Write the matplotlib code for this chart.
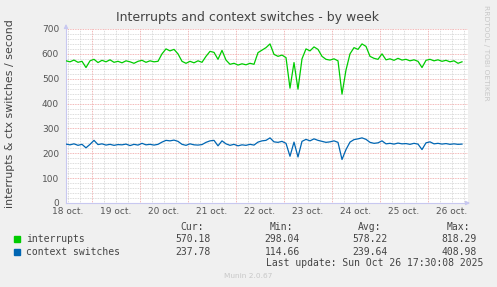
import numpy as np
import matplotlib
matplotlib.use("Agg")
import matplotlib.pyplot as plt
from matplotlib.patches import Rectangle

# hours since 18 oct 00:00, one sample every 2 hours
hours = np.arange(11, 211, 2)

interrupts = [
    572, 568, 575, 566, 570, 545, 572, 578, 565, 574,
    568, 576, 566, 570, 564, 572, 568, 562, 570, 574,
    566, 572, 568, 570, 600, 620, 612, 618, 600, 570,
    562, 570, 564, 572, 566, 590, 610, 606, 578, 614,
    575, 558, 562, 555, 560, 556, 562, 558, 605, 615,
    625, 640, 598, 590, 595, 585, 462, 565, 458, 580,
    620, 612, 628, 618, 590, 578, 575, 580, 572, 438,
    535, 600, 625, 618, 640, 630, 590, 582, 578, 600,
    576, 580, 574, 582, 575, 578, 572, 576, 570, 545,
    574, 578, 572, 576, 570, 574, 568, 572, 562, 568,
]

ctx_switches = [
    237, 234, 238, 232, 236, 222, 236, 252, 235, 238,
    233, 236, 232, 235, 234, 237, 231, 236, 233, 240,
    234, 236, 233, 236, 245, 252, 250, 253, 248, 236,
    232, 238, 234, 233, 235, 244, 250, 252, 230, 250,
    238, 232, 236, 230, 234, 232, 236, 233, 245, 250,
    252, 262, 246, 244, 248, 240, 188, 245, 185, 248,
    256, 250, 258, 252, 248, 244, 246, 250, 244, 175,
    215, 245, 255, 258, 262, 256, 244, 240, 242, 250,
    238, 240, 237, 241, 238, 239, 236, 240, 237, 215,
    242, 246, 238, 240, 237, 239, 236, 238, 236, 237,
]

day_labels = ["18 oct.", "19 oct.", "20 oct.", "21 oct.", "22 oct.",
              "23 oct.", "24 oct.", "25 oct.", "26 oct."]

series_names = ["interrupts", "context switches"]
series_colors = ["#00cc00", "#0066b3"]
cur_vals = ["570.18", "237.78"]
min_vals = ["298.04", "114.66"]
avg_vals = ["578.22", "239.64"]
max_vals = ["818.29", "408.98"]

W, H = 497, 287


def fx(px):
    return px / W


def fy(py):
    return 1 - py / H


fig = plt.figure(figsize=(W / 100, H / 100), dpi=100, facecolor="#f0f0f0")
ax = fig.add_axes([fx(66), fy(203), (468 - 66) / W, (203 - 29) / H])
ax.set_facecolor("white")
ax.set_xlim(11, 212)
ax.set_ylim(0, 700)

# grid, rrdtool style
for h in range(12, 212, 6):
    if h % 24:
        ax.axvline(h, color="#d0d0d0", lw=0.6, ls=(0, (1, 1)), zorder=1)
for v in range(20, 701, 20):
    if v % 100:
        ax.axhline(v, color="#d0d0d0", lw=0.6, ls=(0, (1, 1)), zorder=1)
for h in range(24, 212, 24):
    ax.axvline(h, color="#eea0a0", lw=0.6, ls=(0, (1, 1)), zorder=1)
for v in range(100, 701, 100):
    ax.axhline(v, color="#eea0a0", lw=0.6, ls=(0, (1, 1)), zorder=1)

ax.plot(hours, interrupts, color=series_colors[0], lw=0.9, zorder=3)
ax.plot(hours, ctx_switches, color=series_colors[1], lw=0.9, zorder=3)

for s in ["top", "right"]:
    ax.spines[s].set_visible(False)
for s in ["left", "bottom"]:
    ax.spines[s].set_color("#c8c8f0")
    ax.spines[s].set_linewidth(0.8)
ax.annotate("", xy=(1.012, 0), xytext=(0.99, 0), xycoords="axes fraction",
            arrowprops=dict(arrowstyle="-|>", color="#c8c8f0", lw=0.8,
                            mutation_scale=6))
ax.annotate("", xy=(0, 1.045), xytext=(0, 0.99), xycoords="axes fraction",
            arrowprops=dict(arrowstyle="-|>", color="#c8c8f0", lw=0.8,
                            mutation_scale=6))

ax.set_xticks([24 * i + 12 for i in range(len(day_labels))])
ax.set_xticklabels(day_labels)
ax.set_yticks(range(0, 701, 100))
ax.tick_params(axis="both", length=0, labelsize=6.5, colors="#555555", pad=3)
ax.tick_params(axis="y", pad=5)

fig.text(fx(248), fy(18), "Interrupts and context switches - by week",
         ha="center", va="center", fontsize=9, color="#444444")
fig.text(fx(10), fy(114), "interrupts & ctx switches / second", rotation=90,
         ha="center", va="center", fontsize=7.9, color="#444444")
fig.text(fx(486), fy(53), "RRDTOOL / TOBI OETIKER", rotation=270,
         ha="center", va="center", fontsize=5.4, color="#c8c8c8")

mono = "DejaVu Sans Mono"
col_right = [204, 293, 381, 470]
for x, lab in zip(col_right, ["Cur:", "Min:", "Avg:", "Max:"]):
    fig.text(fx(x), fy(227), lab, ha="right", va="center", fontsize=7,
             family=mono, color="#444444")

val_right = [211, 300, 388, 477]
rows_y = [239, 252]
for i in range(2):
    y = rows_y[i]
    fig.patches.append(Rectangle((fx(14), fy(y + 3)), 6 / W, 6 / H,
                                 transform=fig.transFigure,
                                 color=series_colors[i]))
    fig.text(fx(26), fy(y), series_names[i], ha="left", va="center",
             fontsize=7, family=mono, color="#444444")
    vals = [cur_vals[i], min_vals[i], avg_vals[i], max_vals[i]]
    for x, v in zip(val_right, vals):
        fig.text(fx(x), fy(y), v, ha="right", va="center", fontsize=7,
                 family=mono, color="#444444")

fig.text(fx(483), fy(263), "Last update: Sun Oct 26 17:30:08 2025",
         ha="right", va="center", fontsize=7, family=mono, color="#444444")
fig.text(fx(248), fy(276), "Munin 2.0.67", ha="center", va="center",
         fontsize=5.3, color="#c8c8c8")

fig.savefig("out.png", dpi=100, facecolor=fig.get_facecolor())
